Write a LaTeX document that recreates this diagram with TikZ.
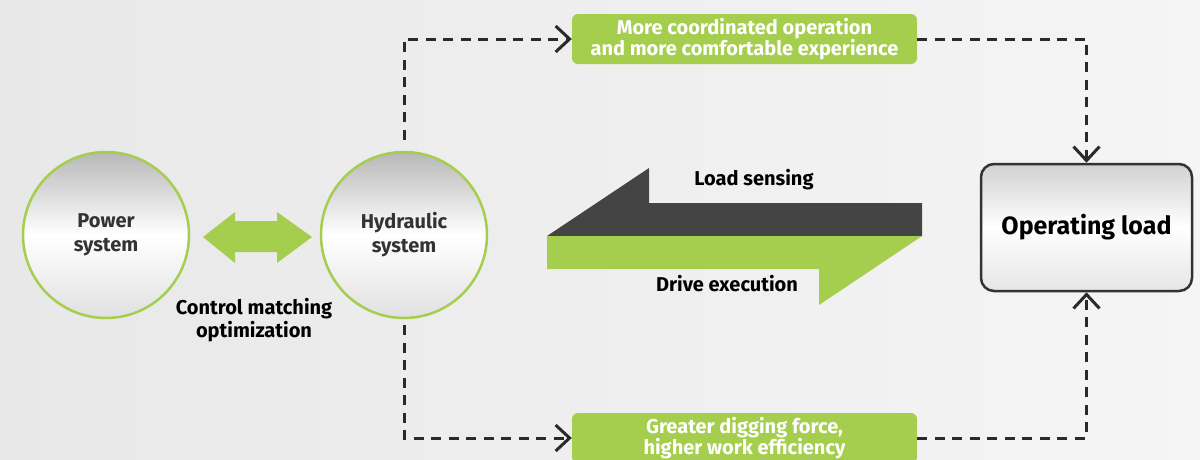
\documentclass[tikz,border=0pt]{standalone}
\usepackage{fontspec}
\setmainfont{Fira Sans}
\usetikzlibrary{arrows.meta}
\definecolor{lgreen}{HTML}{A5CD4E}
\definecolor{dgray}{HTML}{444444}
\definecolor{lineg}{HTML}{2A2A2A}
\tikzset{
 sys/.style={circle, draw=lgreen, line width=2.5pt, minimum size=166pt, inner sep=0pt,
   top color=black!28, bottom color=black!12, middle color=white, align=center,
   font=\fontsize{20}{24}\selectfont\bfseries, text=black!80},
 benefit/.style={rectangle, rounded corners=6pt, fill=lgreen, minimum width=345pt,
   minimum height=50pt, text=white, align=center, inner sep=0pt,
   font=\fontsize{20}{19}\selectfont\bfseries},
 loadbox/.style={rectangle, rounded corners=13pt, draw=black!80, line width=2.5pt,
   minimum width=211pt, minimum height=127pt, top color=black!18, bottom color=black!10,
   middle color=white, font=\fontsize{25}{28}\selectfont\bfseries, text=black},
 flow/.style={draw=lineg, line width=3pt, dash pattern=on 10pt off 7.5pt,
   -{Straight Barb[length=14pt,width=26pt]}},
 lbl/.style={font=\fontsize{20}{23}\selectfont\bfseries, align=center, text=black}
}
\begin{document}
\begin{tikzpicture}[x=1pt,y=-1pt]
\useasboundingbox (0,0) rectangle (1200,459);
\clip (0,0) rectangle (1200,459);
\shade[left color=black!9, middle color=white, right color=black!4] (0,0) rectangle (1200,459);

\node[sys] (pow) at (106,235) {Power\\system};
\node[sys] (hyd) at (404,235) {Hydraulic\\system};
\node[benefit] (top) at (744.5,39) {More coordinated operation\\and more comfortable experience};
\node[benefit] (bot) at (744.5,438) {Greater digging force,\\higher work efficiency};
\node[loadbox] (load) at (1086.5,227.5) {Operating load};

% double arrow between the systems
\fill[lgreen] (203,237) -- (235,212) -- (235,221) -- (277,221) -- (277,212) -- (312,237)
  -- (277,263) -- (277,252) -- (235,252) -- (235,263) -- cycle;

% load sensing / drive execution arrows
\fill[dgray] (547,236) -- (649,168) -- (649,203) -- (922,203) -- (922,236) -- cycle;
\fill[lgreen] (547,236) -- (922,236) -- (819,305) -- (819,269) -- (547,269) -- cycle;

\node[lbl] (cm) at (254,320) {Control matching\\optimization};
\node[lbl] (ls) at (754,180) {Load sensing};
\node[lbl] (de) at (727,284) {Drive execution};

\draw[flow] ([yshift=11pt]hyd.north) |- (top.west);
\draw[flow] (top.east) -| (load.north);
\draw[flow] ([yshift=-6pt]hyd.south) |- (bot.west);
\draw[flow] (bot.east) -| (load.south);
\end{tikzpicture}
\end{document}
